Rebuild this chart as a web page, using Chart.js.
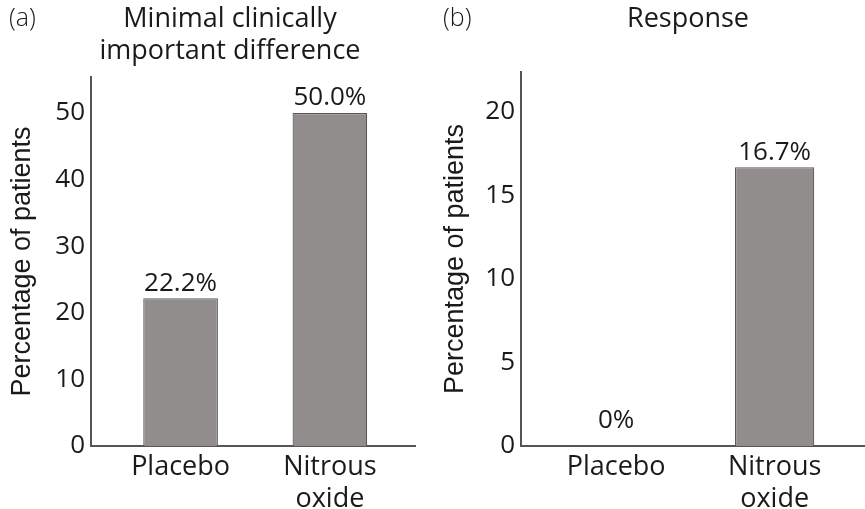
<!DOCTYPE html>
<html><head><meta charset="utf-8">
<script src="https://cdn.jsdelivr.net/npm/chart.js@4/dist/chart.umd.min.js"></script>
<style>
html,body{margin:0;padding:0;background:#fff;}
#wrap{position:relative;width:865px;height:509px;overflow:hidden;}
canvas{position:absolute;top:0;}
#ca{left:0;}
#cb{left:435px;}
</style></head><body>
<div id="wrap">
<canvas id="ca" width="435" height="509"></canvas>
<canvas id="cb" width="430" height="509"></canvas>
</div>
<script>
// Treatment groups and the percentage of patients in each
const categories = ['Placebo', ['Nitrous', 'oxide']];
const mcidValues = [22.2, 50.0];
const responseValues = [0, 16.7];
const mcidTicks = [0, 10, 20, 30, 40, 50];
const responseTicks = [0, 5, 10, 15, 20];

const FONT = "'Open Sans', 'Noto Sans', sans-serif";
const AXIS_FONT = "'Liberation Sans', Arial, sans-serif";
const INK = '#1a1a1a';
const AXIS = '#555555';
const BAR_FILL = '#918d8c';
const BAR_EDGE = '#5a5757';

function fmtPct(v) {
  return v === 0 ? '0%' : v.toFixed(1) + '%';
}

// Panel letter, panel title and the value printed above each bar
const panelText = {
  id: 'panelText',
  afterDatasetsDraw(chart, args, opts) {
    const ctx = chart.ctx;
    ctx.save();
    ctx.fillStyle = INK;
    ctx.textBaseline = 'middle';
    ctx.font = '300 25px ' + FONT;
    ctx.textAlign = 'left';
    ctx.fillText(opts.letter, opts.letterX, opts.lineY[0]);
    ctx.font = '27px ' + FONT;
    ctx.textAlign = 'center';
    opts.title.forEach((t, i) => ctx.fillText(t, opts.titleX, opts.lineY[i]));
    const meta = chart.getDatasetMeta(0);
    const vals = chart.data.datasets[0].data;
    ctx.font = '26px ' + FONT;
    ctx.textBaseline = 'bottom';
    meta.data.forEach((bar, i) => {
      const v = vals[i].y;
      ctx.fillText(fmtPct(v), bar.x, bar.y - (v === 0 ? 12 : 2));
    });
    ctx.restore();
  }
};

function makePanel(id, p) {
  return new Chart(document.getElementById(id), {
    type: 'bar',
    data: {
      datasets: [{
        data: p.values.map((v, i) => ({ x: i, y: v })),
        backgroundColor: BAR_FILL,
        borderColor: BAR_EDGE,
        borderWidth: 1.2,
        borderSkipped: 'bottom',
        barPercentage: 0.5,
        categoryPercentage: 1.0
      }]
    },
    options: {
      responsive: false,
      animation: false,
      layout: { padding: { left: 0, right: p.padRight, top: p.padTop, bottom: 0 } },
      plugins: {
        legend: { display: false },
        tooltip: { enabled: false },
        panelText: { letter: p.letter, letterX: p.letterX, title: p.title, titleX: p.titleX, lineY: [19, 51] }
      },
      scales: {
        x: {
          type: 'linear',
          offset: false,
          min: -0.6,
          max: 1.57,
          grid: { display: false, drawTicks: false, offset: false },
          border: { display: true, color: AXIS, width: 2 },
          afterBuildTicks: s => { s.ticks = [{ value: 0 }, { value: 1 }]; },
          afterFit: s => { s.height = 509 - p.bottom; },
          ticks: {
            autoSkip: false,
            maxRotation: 0,
            padding: 5,
            color: INK,
            font: { family: FONT, size: 27, lineHeight: 1.2 },
            callback: v => categories[v]
          }
        },
        y: {
          min: 0,
          max: p.yMax,
          grid: { display: false, drawTicks: false },
          border: { display: true, color: AXIS, width: 2 },
          afterBuildTicks: s => { s.ticks = p.ticks.map(v => ({ value: v })); },
          afterFit: s => { s.width = p.axisX; },
          ticks: {
            padding: 6,
            color: INK,
            font: { family: FONT, size: 26 }
          },
          title: {
            display: true,
            text: 'Percentage of patients',
            color: INK,
            font: { family: AXIS_FONT, size: 27, lineHeight: 1.2 },
            padding: { top: p.titlePad, bottom: 0 }
          }
        }
      }
    },
    plugins: [panelText]
  });
}

makePanel('ca', {
  values: mcidValues, ticks: mcidTicks, yMax: 55.4,
  axisX: 91, padRight: 20, padTop: 77, bottom: 446, titlePad: 6,
  letter: '(a)', letterX: 9, title: ['Minimal clinically', 'important difference'], titleX: 230
});
makePanel('cb', {
  values: responseValues, ticks: responseTicks, yMax: 22.4,
  axisX: 86, padRight: 0, padTop: 72, bottom: 446, titlePad: 4,
  letter: '(b)', letterX: 8, title: ['Response'], titleX: 253
});
</script>
</body></html>
